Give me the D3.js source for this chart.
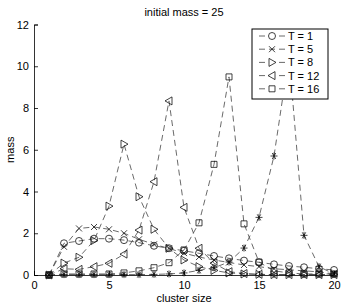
<!DOCTYPE html>
<html>
<head>
<meta charset="utf-8">
<script src="https://cdn.jsdelivr.net/npm/d3@7"></script>
<style>
  body { margin: 0; background: #fff; }
  text { font-family: "Liberation Sans", Arial, sans-serif; }
</style>
</head>
<body>
<div id="chart"></div>
<script>
// cluster sizes on x axis
var clusterSize = [1, 2, 3, 4, 5, 6, 7, 8, 9, 10, 11, 12, 13, 14, 15, 16, 17, 18, 19, 20];

// mass per cluster size, one array per time
var massT1  = [0, 1.52, 1.63, 1.74, 1.74, 1.67, 1.55, 1.40, 1.28, 1.16, 1.04, 0.91, 0.80, 0.69, 0.61, 0.51, 0.43, 0.37, 0.30, 0.24];
var massT5  = [0, 1.35, 2.23, 2.30, 2.19, 2.00, 1.71, 1.47, 1.27, 1.05, 0.86, 0.72, 0.60, 0.48, 0.40, 0.30, 0.25, 0.20, 0.15, 0.05];
var massT8  = [0, 0.57, 0.85, 1.65, 3.30, 6.27, 3.75, 2.19, 1.28, 0.72, 0.40, 0.22, 0.10, 0.05, 0.03, 0.02, 0.02, 0.02, 0.02, 0.02];
var massT12 = [0, 0.30, 0.27, 0.40, 0.56, 1.00, 2.15, 4.47, 8.34, 3.24, 1.28, 0.57, 0.16, 0.07, 0.03, 0.02, 0.02, 0.02, 0.02, 0.02];
var massT16 = [0, 0.05, 0.05, 0.05, 0.05, 0.10, 0.20, 0.35, 0.59, 1.20, 2.50, 5.30, 9.49, 2.45, 0.62, 0.20, 0.10, 0.05, 0.05, 0.05];
var massT20 = [0, 0.02, 0.02, 0.02, 0.02, 0.02, 0.02, 0.03, 0.05, 0.10, 0.22, 0.35, 0.62, 1.29, 2.76, 5.70, 10.5, 1.90, 0.40, 0.05];

var seriesNames = ["T = 1", "T = 5", "T = 8", "T = 12", "T = 16", ""];
var seriesMarkers = ["circle", "x", "triRight", "triLeft", "square", "star"];
var seriesValues = [massT1, massT5, massT8, massT12, massT16, massT20];

var xTicks = [0, 5, 10, 15, 20];
var yTicks = [0, 2, 4, 6, 8, 10, 12];

var width = 345, height = 306;
var margin = {left: 34, right: 11, top: 24.5, bottom: 31};

var svg = d3.select("#chart").append("svg")
  .attr("width", width)
  .attr("height", height);

var x = d3.scaleLinear().domain([0, 20]).range([margin.left, width - margin.right]);
var y = d3.scaleLinear().domain([0, 12]).range([height - margin.bottom, margin.top]);

// markers drawn as paths centred at 0,0
function markerPath(type) {
  var s = 3.5;
  switch (type) {
    case "circle":
      return "M" + s + ",0A" + s + "," + s + " 0 1,1 " + (-s) + ",0A" + s + "," + s + " 0 1,1 " + s + ",0Z";
    case "x":
      return "M-3,-3L3,3M-3,3L3,-3";
    case "triRight":
      return "M-3,-4L4,0L-3,4Z";
    case "triLeft":
      return "M3,-4L-4,0L3,4Z";
    case "square":
      return "M-3,-3H3V3H-3Z";
    case "star":
      return "M-3.5,0H3.5M-1.75,-3L1.75,3M-1.75,3L1.75,-3M0,-3.5V3.5";
  }
}

var line = d3.line()
  .x(function(d) { return x(d[0]); })
  .y(function(d) { return y(d[1]); });

seriesValues.forEach(function(vals, i) {
  var pts = clusterSize.map(function(c, j) { return [c, vals[j]]; });
  svg.append("path")
    .datum(pts)
    .attr("d", line)
    .attr("fill", "none")
    .attr("stroke", "#444")
    .attr("stroke-width", 0.8)
    .attr("stroke-dasharray", "6,4");
  svg.selectAll(".m" + i)
    .data(pts)
    .enter()
    .append("path")
    .attr("class", "m" + i)
    .attr("transform", function(d) { return "translate(" + x(d[0]) + "," + y(d[1]) + ")"; })
    .attr("d", markerPath(seriesMarkers[i]))
    .attr("fill", "none")
    .attr("stroke", "#111")
    .attr("stroke-width", 0.8);
});

// axes with inward ticks
var xAxis = svg.append("g")
  .attr("transform", "translate(0," + y(0) + ")")
  .call(d3.axisBottom(x).tickValues(xTicks).tickSize(-4).tickPadding(6));
var yAxis = svg.append("g")
  .attr("transform", "translate(" + x(0) + ",0)")
  .call(d3.axisLeft(y).tickValues(yTicks).tickSize(-4).tickPadding(5));

[xAxis, yAxis].forEach(function(g) {
  g.select(".domain").attr("stroke", "#000").attr("stroke-width", 0.8);
  g.selectAll(".tick line").attr("stroke", "#000").attr("stroke-width", 0.8);
  g.selectAll(".tick text").attr("font-size", 11).attr("fill", "#000")
    .style("font-family", "Liberation Sans, Arial, sans-serif");
});

svg.append("text")
  .attr("x", (x(0) + x(20)) / 2)
  .attr("y", 16)
  .attr("text-anchor", "middle")
  .attr("font-size", 11)
  .text("initial mass = 25");

svg.append("text")
  .attr("x", (x(0) + x(20)) / 2)
  .attr("y", 302)
  .attr("text-anchor", "middle")
  .attr("font-size", 11)
  .text("cluster size");

svg.append("text")
  .attr("transform", "translate(14," + y(6) + ") rotate(-90)")
  .attr("text-anchor", "middle")
  .attr("font-size", 11)
  .text("mass");

// legend
var lg = svg.append("g").attr("transform", "translate(252,29)");
lg.append("rect")
  .attr("width", 76)
  .attr("height", 70)
  .attr("fill", "#fff")
  .attr("stroke", "#000")
  .attr("stroke-width", 1);

seriesNames.forEach(function(name, i) {
  if (!name) return;
  var row = lg.append("g").attr("transform", "translate(0," + (7 + i * 13.2) + ")");
  row.append("line")
    .attr("x1", 7).attr("x2", 33)
    .attr("stroke", "#444")
    .attr("stroke-width", 0.8)
    .attr("stroke-dasharray", "6,4");
  row.append("path")
    .attr("transform", "translate(20,0)")
    .attr("d", markerPath(seriesMarkers[i]))
    .attr("fill", "#fff")
    .attr("stroke", "#111")
    .attr("stroke-width", 0.8);
  row.append("text")
    .attr("x", 36)
    .attr("y", 4)
    .attr("font-size", 11)
    .text(name);
});
</script>
</body>
</html>
